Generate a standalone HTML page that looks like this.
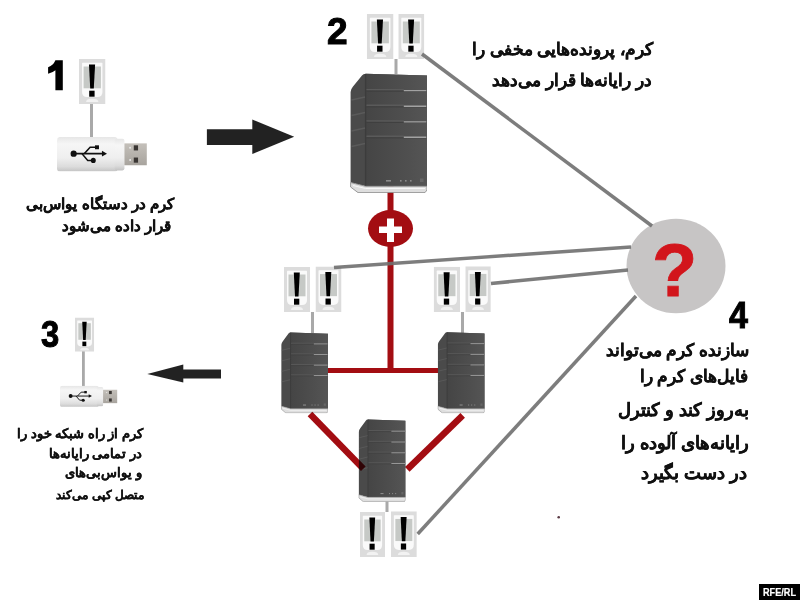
<!DOCTYPE html>
<html><head><meta charset="utf-8">
<style>
html,body{margin:0;padding:0;background:#fff;width:800px;height:600px;overflow:hidden}
#wrap{position:relative;width:800px;height:600px}
svg#g{position:absolute;left:0;top:0}
.t{position:absolute;font-family:"Liberation Sans",sans-serif;font-weight:bold;color:#111;-webkit-text-stroke:0.35px #111;white-space:nowrap;direction:rtl;text-align:right;line-height:1}
.n{position:absolute;font-family:"Liberation Sans",sans-serif;font-weight:bold;color:#000;-webkit-text-stroke:1px #000;line-height:1}
</style></head><body><div id="wrap">
<svg id="g" width="800" height="600" viewBox="0 0 800 600">
<defs>
  <filter id="blur1" x="-10%" y="-10%" width="120%" height="120%"><feGaussianBlur stdDeviation="0.6"/></filter>
  <linearGradient id="usbBody" x1="0" y1="0" x2="0" y2="1">
    <stop offset="0" stop-color="#e6e6e6"/><stop offset="0.2" stop-color="#f6f6f6"/><stop offset="0.6" stop-color="#efefef"/><stop offset="0.85" stop-color="#dcdcdc"/><stop offset="1" stop-color="#c2c2c2"/>
  </linearGradient>
  <linearGradient id="usbConn" x1="0" y1="0" x2="0" y2="1">
    <stop offset="0" stop-color="#c4c0ba"/><stop offset="1" stop-color="#a8a49e"/>
  </linearGradient>
  <symbol id="icon" viewBox="0 0 26 45" preserveAspectRatio="none">
    <rect x="0" y="0" width="26" height="45" fill="#dcdcdc"/>
    <path d="M3.5,3.8 H22.5 Q23,3.8 23,4.5 V33 Q23,38 18,38 H8 Q3,38 3,33 V4.5 Q3,3.8 3.5,3.8 Z" fill="#fafafa"/>
    <rect x="4.5" y="7.5" width="17" height="21.8" fill="#c6c9c6"/>
    <path d="M9.8,5.5 H15.8 L14.5,29.5 H11 Z" fill="#000"/>
    <rect x="10" y="31.7" width="5.3" height="6" fill="#000"/>
    <path d="M7,43 Q7,39.8 12.8,39.8 Q19,39.8 19,43 Z" fill="#f2f2f2"/>
  </symbol>
  <symbol id="server" viewBox="0 0 77 120" preserveAspectRatio="none">
    <linearGradient id="srvFront" x1="0" y1="0" x2="1" y2="0">
      <stop offset="0" stop-color="#454545"/><stop offset="0.6" stop-color="#4e4e4e"/><stop offset="1" stop-color="#555"/>
    </linearGradient>
    <path d="M0.6,19 Q0.8,16 3,13.5 L12,2.5 Q13.2,0.8 15.6,0.8 L77,2.6 L77,113.3 L15.6,113.3 L0.6,109.5 Z" fill="#4a4a4a"/>
    <path d="M15.6,0.8 L77,2.6 L77,113.3 L15.6,113.3 Z" fill="url(#srvFront)"/>
    <path d="M15.6,1 L15.6,113.3" stroke="#3c3c3c" stroke-width="1.4"/>
    <g stroke-width="1.4">
      <path d="M16.5,16.6 H53.8 M16.5,32.3 H53.8 M16.5,47.9 H53.8 M16.5,63.3 H53.8" stroke="#5a5a5a"/><path d="M16.5,18.2 H76.3 M16.5,33.9 H76.3 M16.5,49.5 H76.3 M16.5,64.9 H76.3" stroke="#3e3e3e" stroke-width="0.8"/>
      <path d="M53.8,17.6 H76.3 M53.8,33.3 H76.3 M53.8,48.9 H76.3 M53.8,64.3 H76.3" stroke="#a2a2a2"/>
      <path d="M1.5,27 L15,24 M1.5,42.5 L15,39.5 M1.5,58 L15,55 M1.5,73.5 L15,70.5" stroke="#5a5a5a"/>
    </g>
    <g fill="#8a8a8a">
      <rect x="36" y="107" width="5" height="1.6"/><rect x="50" y="107" width="1.6" height="1.6"/><rect x="55" y="107" width="1.6" height="1.6"/><rect x="60" y="107" width="1.6" height="1.6"/><rect x="70" y="105.5" width="3.5" height="3.5" fill="#666"/>
    </g>
    <path d="M0.6,109.5 L15.6,113.3 H77 V117 L75,119.6 H8 L0.6,114 Z" fill="#dedede" stroke="#8e8e8e" stroke-width="0.9"/>
    <path d="M3,112.5 L15.6,115.5 H75" stroke="#f8f8f8" stroke-width="1" fill="none"/>
  </symbol>
  <symbol id="usb" viewBox="0 0 90.5 33.4" preserveAspectRatio="none">
    <rect x="0" y="0" width="61" height="34" rx="3.5" fill="url(#usbBody)"/>
    <rect x="58" y="1.8" width="9.8" height="30.8" rx="2" fill="url(#usbBody)"/>
        <rect x="67.8" y="6.3" width="22.5" height="21.3" fill="url(#usbConn)"/>
    <rect x="77.2" y="8.2" width="4.3" height="5" fill="#3a3633"/>
    <rect x="77.2" y="20.1" width="4.3" height="5" fill="#3a3633"/>
    <circle cx="73.5" cy="10.6" r="0.9" fill="#eee"/>
    <circle cx="73.5" cy="22.5" r="0.9" fill="#eee"/>
    <g fill="#111" stroke="#111">
      <circle cx="16.75" cy="16.3" r="3.1" stroke="none"/>
      <path d="M16.75,16.3 H46" stroke-width="1.5" fill="none"/>
      <path d="M50.3,16.3 L45.2,13.6 V19 Z" stroke="none"/>
      <path d="M27.5,16.3 L33.3,10.1 H39" stroke-width="1.5" fill="none"/>
      <rect x="38.2" y="8.2" width="4" height="3.8" stroke="none"/>
      <path d="M25.2,16.3 L30.9,22.9 H35" stroke-width="1.5" fill="none"/>
      <circle cx="36.5" cy="22.9" r="2.5" stroke="none"/>
    </g>
  </symbol>
</defs>

<!-- connector stubs -->
<g fill="#a9a9a9">
  <rect x="90" y="104" width="3" height="34"/>
  <rect x="394.5" y="59" width="3" height="15"/>
  <rect x="311" y="312" width="3" height="21"/>
  <rect x="461" y="312" width="3" height="21"/>
  <rect x="385.5" y="500" width="3" height="12"/>
  <rect x="82" y="351" width="2.8" height="36"/>
</g>

<!-- red network -->
<g fill="#a30d12">
  <rect x="387.5" y="186" width="6" height="185"/>
  <rect x="326" y="368" width="113" height="5"/>
  <ellipse cx="390.5" cy="228.5" rx="22.5" ry="18.5"/>
</g>
<g fill="#fff">
  <rect x="379" y="226.5" width="23" height="6.5"/>
  <rect x="387" y="218.5" width="7" height="23.5"/>
</g>

<!-- servers -->
<use href="#server" x="350" y="73" width="77" height="120"/>
<use href="#server" x="281" y="332" width="47" height="81.3"/>
<use href="#server" x="437.5" y="331.7" width="47.2" height="81.6"/>
<use href="#server" x="358.4" y="419" width="47.2" height="83"/>

<g stroke="#a30d12" stroke-width="6.5" style="mix-blend-mode:multiply">
  <line x1="310" y1="414" x2="363.3" y2="468.7"/>
  <line x1="462.7" y1="415.3" x2="407.3" y2="469.3"/>
</g>

<!-- question circle -->
<ellipse cx="676" cy="266" rx="49.5" ry="47.3" fill="#c7c5c5"/>

<!-- icons -->
<use href="#icon" x="79" y="59" width="26.5" height="45"/>
<use href="#icon" x="366.8" y="14" width="26.7" height="45"/>
<use href="#icon" x="398.3" y="14" width="26" height="45"/>
<use href="#icon" x="284" y="267" width="26" height="45"/>
<use href="#icon" x="315.5" y="266.5" width="26" height="45.5"/>
<use href="#icon" x="433.7" y="266.7" width="26.3" height="45.3"/>
<use href="#icon" x="465.3" y="266.3" width="25.5" height="45.7"/>
<use href="#icon" x="359.9" y="512" width="25.1" height="45"/>
<use href="#icon" x="390.9" y="511.3" width="25.9" height="45.7"/>
<use href="#icon" x="75" y="317.5" width="19.2" height="34.2"/>

<!-- gray lines -->
<g stroke="#6f6f6f" stroke-width="3.5" stroke-opacity="0.9">
  <line x1="422" y1="54" x2="652" y2="226"/>
  <line x1="334" y1="267.5" x2="631" y2="247"/>
  <line x1="491" y1="283.5" x2="628" y2="270"/>
  <line x1="417.7" y1="534" x2="636" y2="296"/>
</g>

<!-- USB drives -->
<use href="#usb" x="57" y="136.9" width="90" height="34.3"/>
<use href="#usb" x="60" y="385.8" width="57.5" height="21"/>

<!-- arrows -->
<path d="M206.9,129.3 H252.3 V119.6 L294.2,136.8 L252.3,154 V145 H206.9 Z" fill="#232323" filter="url(#blur1)"/>
<path d="M147.3,374.1 L183.3,364.6 V369.6 H221 V378.6 H183.3 V382.6 Z" fill="#232323" filter="url(#blur1)"/>

<circle cx="558.7" cy="517.3" r="1.3" fill="#5a3a44"/>
<!-- digit 1 -->
<path d="M55.4,60.3 H62.8 V90.3 H55.4 V70.3 Q52.5,72.8 48.1,73.8 V67.2 Q53.5,65.2 55.4,60.3 Z" fill="#000"/>

<!-- RFE/RL badge -->
<rect x="759" y="584" width="41" height="16" fill="#000"/>
</svg>

<div class="n" style="left:327px;top:13px;font-size:37px">2</div>
<div class="n" style="left:41px;top:317px;font-size:36.4px;transform:scaleX(0.9);transform-origin:0 0">3</div>
<div class="n" style="left:728.5px;top:297px;font-size:37px;transform:scaleX(0.92);transform-origin:0 0">4</div>
<div class="n" style="left:652px;top:234px;font-size:74px;color:#d2151c;-webkit-text-stroke:0.8px #d2151c">?</div>
<div class="n" id="rfe" style="left:763px;top:586.5px;font-size:10.5px;transform:scaleX(0.87);transform-origin:0 0;color:#fff;-webkit-text-stroke:0.2px #fff">RFE/RL</div>

<div class="t" style="right:626px;top:196px;font-size:15px">کرم در دستگاه یواس‌بی</div>
<div class="t" style="right:629px;top:218px;font-size:15px">قرار داده می‌شود</div>

<div class="t" style="right:147px;top:42px;font-size:16.8px">کرم، پرونده‌هایی مخفی را</div>
<div class="t" style="right:148px;top:73px;font-size:16.8px">در رایانه‌ها قرار می‌دهد</div>

<div class="t" style="right:657px;top:427px;font-size:13px;-webkit-text-stroke-width:0.25px">کرم از راه شبکه خود را</div>
<div class="t" style="right:658px;top:447px;font-size:13px;-webkit-text-stroke-width:0.25px">در تمامی رایانه‌ها</div>
<div class="t" style="right:658px;top:466px;font-size:13px;-webkit-text-stroke-width:0.25px">و یواس‌بی‌های</div>
<div class="t" style="right:656px;top:489px;font-size:12.2px;-webkit-text-stroke-width:0.25px">متصل کپی می‌کند</div>

<div class="t" style="right:51px;top:342px;font-size:17px">سازنده کرم می‌تواند</div>
<div class="t" style="right:52px;top:368px;font-size:17px">فایل‌های کرم را</div>
<div class="t" style="right:51px;top:401px;font-size:18px">به‌روز کند و کنترل</div>
<div class="t" style="right:51px;top:433.5px;font-size:18px">رایانه‌های آلوده را</div>
<div class="t" style="right:53px;top:464px;font-size:18px">در دست بگیرد</div>
</div></body></html>
